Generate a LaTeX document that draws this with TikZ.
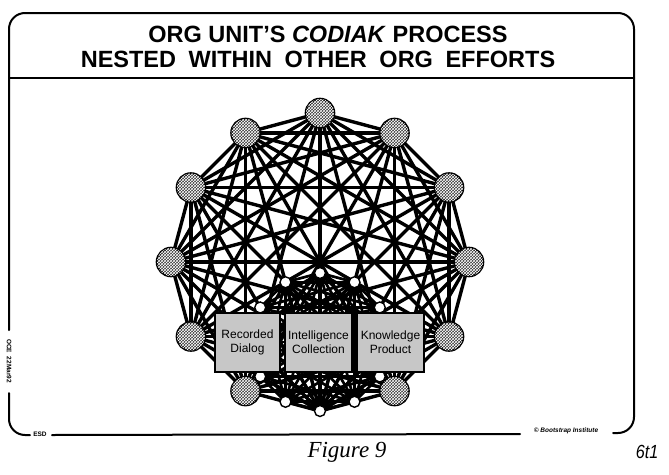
\documentclass[tikz,border=0pt]{standalone}
\usepackage{fontspec}
\setmainfont{Liberation Sans}
\newfontfamily\seriffont{Liberation Serif}
\usetikzlibrary{patterns}
\pgfdeclarelayer{background}
\pgfsetlayers{background,main}
\tikzset{
  frame/.style={line width=2pt, line cap=round},
  onode/.style={circle, draw=black, line width=2.6pt, minimum size=28pt, inner sep=0pt,
    fill=black!78, postaction={pattern=crosshatch, pattern color=white}},
  inode/.style={circle, draw=black, line width=1.4pt, fill=white, minimum size=11pt, inner sep=0pt},
  oedge/.style={line width=3.4pt, black},
  iedge/.style={line width=2.7pt, black},
  boxnode/.style={rectangle, draw=black, line width=1.2pt, fill=black!22, minimum height=59pt,
    inner sep=0pt, align=center, font=\fontsize{12}{14}\selectfont},
  tiny/.style={font=\fontsize{6.5}{7}\selectfont\bfseries, inner sep=0.5pt},
  title/.style={anchor=base, inner sep=0pt, font=\fontsize{23.5}{28}\selectfont\bfseries}
}
\begin{document}
\begin{tikzpicture}[x=1pt,y=-1pt]
\useasboundingbox (0,0) rectangle (669,474);
% frame
\draw[frame, rounded corners=16pt] (9,330) -- (9,13) -- (634,13) -- (634,433) -- (613,433);
\draw[frame, rounded corners=16pt] (9,393) -- (9,435) -- (30,435);
\draw[frame] (52,435) -- (520,434);
\draw[frame] (9,78) -- (634,78);
% title
\node[title] (t1) at (328,42) {ORG UNIT'S \textit{CODIAK} PROCESS};
\node[title] (t2) at (318,67) {NESTED\hspace{6pt} WITHIN\hspace{6pt} OTHER\hspace{6pt} ORG\hspace{6pt} EFFORTS};
% inner nodes
\foreach \i in {0,...,11} {
  \node[inode] (n\i) at ({320+69*cos(90-30*\i)},{342-69*sin(90-30*\i)}) {};
}
% outer nodes
\foreach \i in {0,...,11} {
  \ifnum\i=6
    \coordinate (o6) at (n6);
  \else
    \node[onode] (o\i) at ({320+149*cos(90-30*\i)},{262-149*sin(90-30*\i)}) {};
  \fi
}
\begin{pgfonlayer}{background}
\foreach \i in {0,...,10} {
  \pgfmathtruncatemacro\s{\i+1}
  \foreach \j in {\s,...,11} {
    \draw[iedge] (n\i.center) -- (n\j.center);
    \draw[oedge] (o\i.center) -- (o\j.center);
  }
}
\end{pgfonlayer}
% boxes
\node[boxnode, minimum width=65pt] (rd) at (247.5,342.5) {Recorded\\Dialog};
\node[boxnode, minimum width=67pt] (ic) at (318.5,342.5) {Intelligence\\Collection};
\node[boxnode, minimum width=67pt] (kp) at (390.5,342.5) {Knowledge\\Product};
% small texts
\node[tiny, rotate=-90] (oce) at (9,361) {OCE\ \ 22Mar92};
\node[tiny] (esd) at (40,434) {ESD};
\node[tiny, font=\fontsize{6.5}{7}\selectfont\bfseries\itshape] (bi) at (566,431) {\textcopyright\ Bootstrap Institute};
\node[inner sep=0pt, anchor=base, font=\seriffont\itshape\fontsize{23}{26}\selectfont] (fig) at (347,457) {Figure 9};
\node[inner sep=0pt, anchor=base, font=\itshape\fontsize{19}{22}\selectfont] (pg) at (647,458) {\scalebox{0.85}[1]{6t1}};
\end{tikzpicture}
\end{document}
